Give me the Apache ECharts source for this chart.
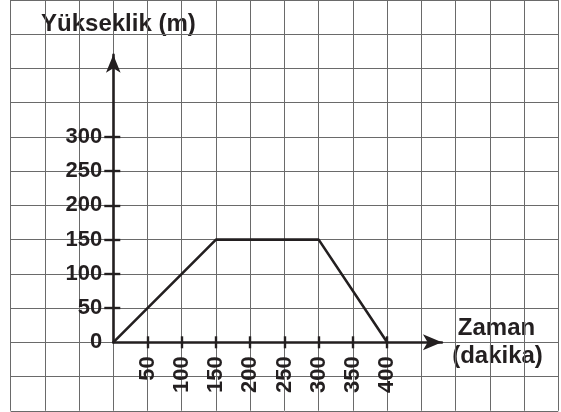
<!DOCTYPE html>
<html>
<head>
<meta charset="utf-8">
<script src="https://cdn.jsdelivr.net/npm/echarts@6/dist/echarts.min.js"></script>
<style>
html,body{margin:0;padding:0;background:#fff;}
#chart{width:561px;height:412px;}
</style>
</head>
<body>
<div id="chart"></div>
<script>
// ---- data ----
var timeValues = [0, 150, 300, 400];        // Zaman (dakika)
var heightValues = [0, 150, 150, 0];        // Yükseklik (m)
var xTickLabels = [50, 100, 150, 200, 250, 300, 350, 400];
var yTickLabels = [0, 50, 100, 150, 200, 250, 300];
var yTickMarks = [50, 100, 150, 200, 250, 300];
var paperX = [-150, 650];   // background squared-paper range (x)
var paperY = [-100, 500];   // background squared-paper range (y)
var axisEnds = [480, 420];  // where the drawn arrows end (x, y)
var xTitle = ['Zaman', '(dakika)'];
var yTitle = 'Yükseklik (m)';

// ---- layout ----
var u = 34.23 / 50;         // px per unit
var paperLeft = 10.6, paperTop = 0;
var ox = paperLeft + (0 - paperX[0]) * u;
var oy = paperTop + (paperY[1] - 0) * u;
var ink = '#231f20';
var labelFont = '"Liberation Sans Narrow", "Arial Narrow", "Liberation Sans", Arial, sans-serif';

var lineData = timeValues.map(function (t, i) { return [t, heightValues[i]]; });

var chart = echarts.init(document.getElementById('chart'), null, {renderer: 'canvas'});
var grid2 = {left: ox, top: oy - axisEnds[1] * u, width: axisEnds[0] * u, height: axisEnds[1] * u};
chart.setOption({
  backgroundColor: '#fff',
  animation: false,
  grid: [
    {left: paperLeft, top: paperTop, width: (paperX[1] - paperX[0]) * u, height: (paperY[1] - paperY[0]) * u},
    grid2,
    grid2
  ],
  xAxis: [
    {type: 'value', gridIndex: 0, min: paperX[0], max: paperX[1], interval: 50,
      axisLine: {show: false}, axisTick: {show: false}, axisLabel: {show: false},
      splitLine: {show: true, lineStyle: {color: '#6a6a6a', width: 1}}},
    {type: 'value', gridIndex: 1, min: 0, max: axisEnds[0], interval: 50,
      axisLine: {show: true, onZero: false, symbol: ['none', 'arrow'], symbolSize: [12, 19],
        lineStyle: {color: ink, width: 2.6}},
      axisTick: {show: true, inside: false, length: 6, customValues: xTickLabels,
        lineStyle: {color: ink, width: 2.4}},
      axisLabel: {show: true, customValues: xTickLabels, rotate: 90, margin: 14,
        fontFamily: labelFont, fontWeight: 'bold', fontSize: 22, color: ink},
      splitLine: {show: false}},
    {type: 'value', gridIndex: 2, min: 0, max: axisEnds[0], interval: 50,
      axisLine: {show: false},
      axisTick: {show: true, inside: true, length: 6, customValues: xTickLabels,
        lineStyle: {color: ink, width: 2.4}},
      axisLabel: {show: false}, splitLine: {show: false}}
  ],
  yAxis: [
    {type: 'value', gridIndex: 0, min: paperY[0], max: paperY[1], interval: 50,
      axisLine: {show: false}, axisTick: {show: false}, axisLabel: {show: false},
      splitLine: {show: true, lineStyle: {color: '#6a6a6a', width: 1}}},
    {type: 'value', gridIndex: 1, min: 0, max: axisEnds[1], interval: 50,
      axisLine: {show: true, onZero: false, symbol: ['none', 'arrow'], symbolSize: [11, 18],
        lineStyle: {color: ink, width: 2.6}},
      axisTick: {show: true, inside: false, length: 9, customValues: yTickMarks,
        lineStyle: {color: ink, width: 2.4}},
      axisLabel: {show: true, customValues: yTickLabels, margin: 11,
        fontFamily: labelFont, fontWeight: 'bold', fontSize: 22, color: ink},
      splitLine: {show: false}},
    {type: 'value', gridIndex: 2, min: 0, max: axisEnds[1], interval: 50,
      axisLine: {show: false},
      axisTick: {show: true, inside: true, length: 7, customValues: yTickMarks,
        lineStyle: {color: ink, width: 2.4}},
      axisLabel: {show: false}, splitLine: {show: false}}
  ],
  series: [{
    type: 'line', xAxisIndex: 1, yAxisIndex: 1, data: lineData,
    symbol: 'none', lineStyle: {color: ink, width: 2.6}, z: 5
  }],
  graphic: [
    {type: 'text', x: 118.4, y: 24.5, style: {text: yTitle, font: 'bold 24px "Liberation Sans", Arial, sans-serif', fill: ink, align: 'center', verticalAlign: 'middle'}},
    {type: 'text', x: 496.5, y: 328.5, style: {text: xTitle[0], font: 'bold 24px "Liberation Sans", Arial, sans-serif', fill: ink, align: 'center', verticalAlign: 'middle'}},
    {type: 'text', x: 497.5, y: 356.5, style: {text: xTitle[1], font: 'bold 24px "Liberation Sans", Arial, sans-serif', fill: ink, align: 'center', verticalAlign: 'middle'}}
  ]
});
</script>
</body>
</html>
